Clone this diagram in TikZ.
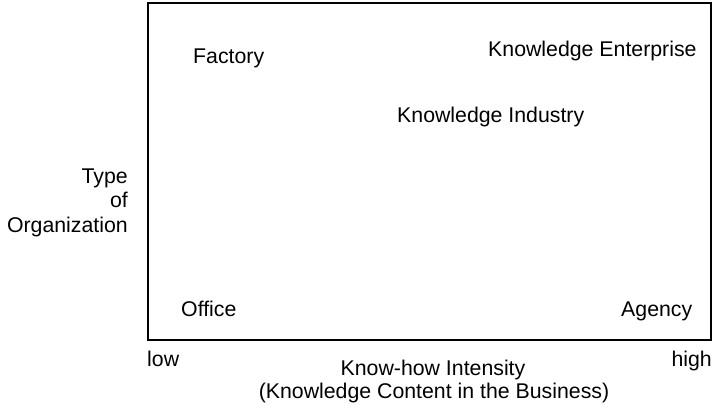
\documentclass[tikz,border=0pt]{standalone}
\usepackage{fontspec}
\setmainfont{Liberation Sans}
\begin{document}
\begin{tikzpicture}[x=1pt,y=-1pt,
  lbl/.style={inner sep=0pt,font=\fontsize{21.3}{24.5}\selectfont}]
\useasboundingbox (0,0) rectangle (714,407);
% the matrix frame
\draw[line width=1.2pt] (148,3) rectangle (711,340);
% quadrant labels
\node[lbl,anchor=base west] (factory) at (193,63) {Factory};
\node[lbl,anchor=base west] (kent) at (488,56) {Knowledge Enterprise};
\node[lbl,anchor=base west] (kind) at (397,122) {Knowledge Industry};
\node[lbl,anchor=base west] (office) at (181,316) {Office};
\node[lbl,anchor=base west] (agency) at (621,316) {Agency};
% vertical axis title
\node[lbl,anchor=base east] (type) at (128,183) {Type};
\node[lbl,anchor=base east] (of) at (128,207.5) {of};
\node[lbl,anchor=base east] (org) at (128,232) {Organization};
% horizontal axis
\node[lbl,anchor=base west] (low) at (147,366.5) {low};
\node[lbl,anchor=base east] (high) at (712,366.5) {high};
\node[lbl,anchor=base] (kh) at (433,375) {Know-how Intensity};
\node[lbl,anchor=base] (kc) at (434,398) {(Knowledge Content in the Business)};
\end{tikzpicture}
\end{document}
